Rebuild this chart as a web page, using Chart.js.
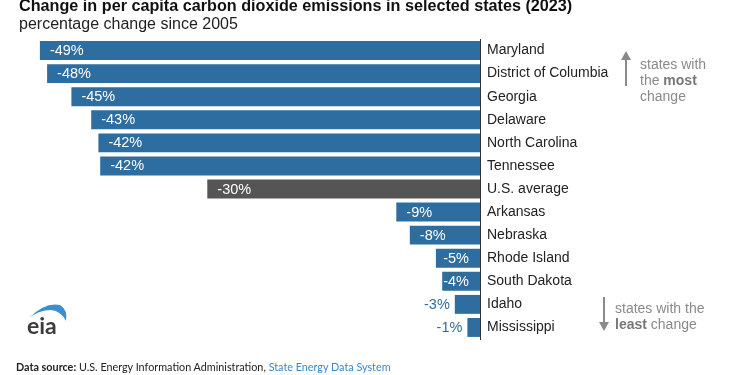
<!DOCTYPE html>
<html>
<head>
<meta charset="utf-8">
<script src="https://cdn.jsdelivr.net/npm/chart.js@4.4.1/dist/chart.umd.min.js"></script>
<style>
    body { margin: 0; background: #fff; }
    #lienzo { position: relative; width: 750px; height: 375px; overflow: hidden; font-family: "Liberation Sans", Arial, sans-serif; }
    #lienzo canvas { position: absolute; left: 0; top: 0; }
    .txt { position: absolute; white-space: nowrap; }
    #titulo { left: 19px; top: -3px; font-size: 16.2px; line-height: 16px; font-weight: bold; color: #111; }
    #subtitulo { left: 19px; top: 16px; font-size: 16px; line-height: 16px; color: #222; }
    .nota { font-size: 14px; line-height: 16px; color: #8a8a8a; }
    .nota b { color: #777; }
    #fuente { left: 16px; top: 360px; font-family: Lato, "Open Sans", sans-serif; font-size: 10.8px; line-height: 13px; color: #222; }
    #fuente span { color: #3a87c8; }
</style>
</head>
<body>
<div id="lienzo">
    <canvas id="grafica" width="750" height="375"></canvas>
    <div class="txt" id="titulo">Change in per capita carbon dioxide emissions in selected states (2023)</div>
    <div class="txt" id="subtitulo">percentage change since 2005</div>
    <div class="txt nota" style="left:640px; top:56px;">states with<br>the <b>most</b><br>change</div>
    <div class="txt nota" style="left:615px; top:300px;">states with the<br><b>least</b> change</div>
    <div class="txt" id="fuente"><b>Data source:</b> U.S. Energy Information Administration, <span>State Energy Data System</span></div>
    <svg width="750" height="375" style="position:absolute; left:0; top:0; pointer-events:none;">
        <!-- flechas de las notas -->
        <line x1="626" y1="58" x2="626" y2="86" stroke="#8a8a8a" stroke-width="2"/>
        <polygon points="626,51 621,60 631,60" fill="#8a8a8a"/>
        <line x1="604" y1="297" x2="604" y2="324" stroke="#8a8a8a" stroke-width="2"/>
        <polygon points="604,331 599,322 609,322" fill="#8a8a8a"/>
        <!-- logo eia -->
        <path d="M29,318 Q45,302 60,305 Q68,310 66,321 Q61,311 51,310 Q39,310 29,318 Z" fill="#3b8fd1"/>
        <text x="27" y="334" font-family="Lato, sans-serif" font-size="23" font-weight="bold" fill="#3c3c3c">eia</text>
    </svg>
</div>

<script>
// ==========================================
// DATOS
// ==========================================
const estados = [
    'Maryland', 'District of Columbia', 'Georgia', 'Delaware', 'North Carolina',
    'Tennessee', 'U.S. average', 'Arkansas', 'Nebraska', 'Rhode Island',
    'South Dakota', 'Idaho', 'Mississippi'
];
const cambios = [-48.9, -48.1, -45.4, -43.2, -42.4, -42.2, -30.3, -9.3, -7.8, -4.9, -4.2, -2.8, -1.4];
const promedio = 'U.S. average';

const AZUL = '#2e6d9f';
const GRIS = '#555555';
const FUENTE = '"Liberation Sans", Arial, sans-serif';

// ==========================================
// PLUGIN: etiquetas de porcentaje
// ==========================================
const etiquetasValor = {
    id: 'etiquetasValor',
    afterDatasetsDraw(chart) {
        const ctx = chart.ctx;
        const meta = chart.getDatasetMeta(0);
        ctx.save();
        ctx.font = '14.5px ' + FUENTE;
        ctx.textBaseline = 'middle';
        meta.data.forEach((barra, i) => {
            const texto = Math.round(cambios[i]) + '%';
            const w = ctx.measureText(texto).width;
            if (Math.abs(cambios[i]) >= 3.5) {
                // dentro de la barra, en blanco
                ctx.fillStyle = '#fff';
                ctx.textAlign = 'left';
                ctx.fillText(texto, Math.min(barra.x + 10, barra.base - 11 - w), barra.y + 0.5);
            } else {
                // fuera de la barra, a la izquierda
                ctx.fillStyle = AZUL;
                ctx.textAlign = 'right';
                ctx.fillText(texto, barra.x - 5, barra.y + 0.5);
            }
        });
        ctx.restore();
    }
};

// ==========================================
// GRÁFICA
// ==========================================
new Chart(document.getElementById('grafica'), {
    type: 'bar',
    data: {
        labels: estados,
        datasets: [{
            data: cambios,
            backgroundColor: estados.map(e => e === promedio ? GRIS : AZUL),
            borderWidth: 0,
            barPercentage: 0.82,
            categoryPercentage: 1
        }]
    },
    options: {
        indexAxis: 'y',
        responsive: false,
        animation: false,
        events: [],
        layout: { padding: { left: 30, top: 39, bottom: 36, right: 0 } },
        plugins: { legend: { display: false }, tooltip: { enabled: false } },
        scales: {
            x: { display: false, min: -50, max: 0 },
            y: {
                position: 'right',
                grid: { display: false, drawTicks: false },
                border: { display: true, color: '#333', width: 1 },
                ticks: { color: '#222', padding: 7, font: { size: 14, family: FUENTE } },
                afterFit: (s) => { s.width = 270; }
            }
        }
    },
    plugins: [etiquetasValor]
});
</script>
</body>
</html>
